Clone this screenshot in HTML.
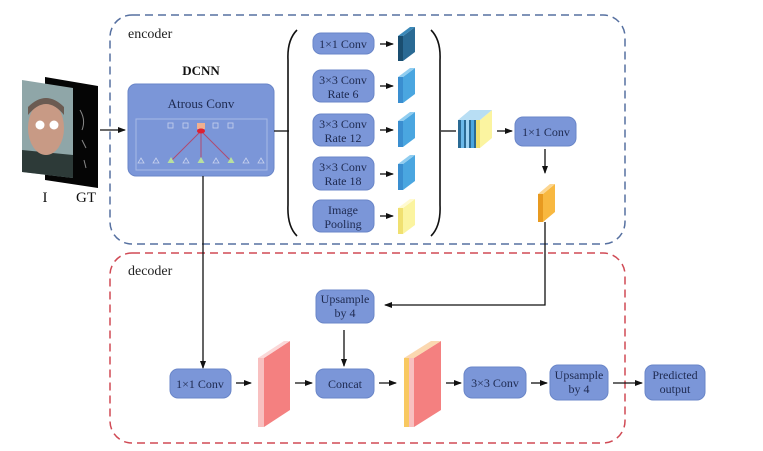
<!DOCTYPE html>
<html><head><meta charset="utf-8"><style>
html,body{margin:0;padding:0;background:#fff;}
svg{display:block;font-family:"Liberation Serif",serif;}
</style></head><body>
<svg width="763" height="451" viewBox="0 0 763 451" xmlns="http://www.w3.org/2000/svg">
<defs>
<marker id="a" markerWidth="8" markerHeight="8" refX="7" refY="4" orient="auto" markerUnits="userSpaceOnUse"><path d="M0,1 L8,4 L0,7 z" fill="#111"/></marker>
</defs>
<!-- containers -->
<rect x="110" y="15" width="515" height="229" rx="22" fill="none" stroke="#5670a0" stroke-width="1.5" stroke-dasharray="8,5"/>
<rect x="110" y="253" width="515" height="190" rx="22" fill="none" stroke="#d04a55" stroke-width="1.5" stroke-dasharray="8,5"/>
<text x="128" y="38" font-size="14" fill="#222">encoder</text>
<text x="128" y="275" font-size="14" fill="#222">decoder</text>

<!-- input images -->
<polygon points="45,77 98,86 98,188 45,180" fill="#050505"/>
<path d="M80,110 q6,10 2,20 M82,140 l4,8 M84,160 l2,8" stroke="#888" stroke-width="1" fill="none"/>
<polygon points="22,80 73,88 73,178 22,172" fill="#8fa6a8"/>
<polygon points="22,150 73,155 73,178 22,172" fill="#2d3a38"/>
<ellipse cx="46" cy="128" rx="18" ry="27" fill="#c89a85"/>
<path d="M28,115 q18,-22 36,0 l0,-8 q-18,-18 -36,0z" fill="#6b5b52"/>
<circle cx="40" cy="125" r="4.5" fill="#fff"/><circle cx="54" cy="125" r="4.5" fill="#fff"/>
<text x="45" y="202" font-size="15" text-anchor="middle" fill="#111">I</text>
<text x="86" y="202" font-size="15" text-anchor="middle" fill="#111">GT</text>
<line x1="100" y1="130" x2="125" y2="130" stroke="#111" stroke-width="1.3" marker-end="url(#a)"/>

<!-- DCNN -->
<text x="201" y="75" font-size="13" font-weight="bold" text-anchor="middle" fill="#111">DCNN</text>
<rect x="128" y="84" width="146" height="92" rx="8" fill="#7b96d8" stroke="#6a86c8"/>
<text x="201" y="108" font-size="13" text-anchor="middle" fill="#1e2a50">Atrous Conv</text>
<rect x="136" y="119" width="131" height="51" fill="none" stroke="#a7b9e6" stroke-width="1"/>
<g stroke="#b04a70" stroke-width="1"><line x1="201" y1="131" x2="171" y2="161"/><line x1="201" y1="131" x2="201" y2="161"/><line x1="201" y1="131" x2="231" y2="161"/></g>
<g fill="none" stroke="#c8d2ee" stroke-width="0.8">
<rect x="168" y="123" width="5" height="5"/><rect x="183" y="123" width="5" height="5"/><rect x="213" y="123" width="5" height="5"/><rect x="228" y="123" width="5" height="5"/>
</g>
<rect x="197" y="123" width="8" height="6" fill="#f0b090"/>
<ellipse cx="201" cy="131" rx="4" ry="2.5" fill="#e02030"/>
<g fill="none" stroke="#c8d2ee" stroke-width="0.8">
<path d="M141,158 l3,5 h-6z M156,158 l3,5 h-6z M186,158 l3,5 h-6z M216,158 l3,5 h-6z M246,158 l3,5 h-6z M261,158 l3,5 h-6z"/>
</g>
<g fill="#b8e0a0"><path d="M171,157 l3.5,6 h-7z M201,157 l3.5,6 h-7z M231,157 l3.5,6 h-7z"/></g>
<line x1="274" y1="131" x2="289" y2="131" stroke="#111" stroke-width="1.3"/>

<!-- brackets -->
<path d="M297,30 Q287,40 288,60 L288,205 Q287,226 297,236" fill="none" stroke="#111" stroke-width="1.6"/>
<path d="M431,30 Q441,40 440,60 L440,205 Q441,226 431,236" fill="none" stroke="#111" stroke-width="1.6"/>
<line x1="441" y1="131" x2="456" y2="131" stroke="#111" stroke-width="1.3"/>

<!-- ASPP boxes -->
<g fill="#7b96d8" stroke="#6a86c8">
<rect x="313" y="33" width="61" height="21" rx="8"/>
<rect x="313" y="70" width="61" height="32" rx="8"/>
<rect x="313" y="114" width="61" height="32" rx="8"/>
<rect x="313" y="157" width="61" height="33" rx="8"/>
<rect x="313" y="200" width="61" height="32" rx="8"/>
</g>
<g font-size="12" text-anchor="middle" fill="#1e2a50">
<text x="343" y="48">1×1 Conv</text>
<text x="343" y="84">3×3 Conv</text><text x="343" y="98">Rate 6</text>
<text x="343" y="128">3×3 Conv</text><text x="343" y="142">Rate 12</text>
<text x="343" y="171">3×3 Conv</text><text x="343" y="185">Rate 18</text>
<text x="343" y="214">Image</text><text x="343" y="228">Pooling</text>
</g>
<g stroke="#111" stroke-width="1.3" marker-end="url(#a)">
<line x1="380" y1="44" x2="393" y2="44"/><line x1="380" y1="86" x2="393" y2="86"/><line x1="380" y1="130" x2="393" y2="130"/><line x1="380" y1="174" x2="393" y2="174"/><line x1="380" y1="216" x2="393" y2="216"/>
</g>
<!-- small cubes -->
<g>
<polygon points="398,36 403,36 403,61 398,61" fill="#1a4e70"/><polygon points="403,36 415,27 415,52 403,61" fill="#2a6a94"/><polygon points="398,36 410,27 415,27 403,36" fill="#3a88b8"/>
<polygon points="398,77 403,77 403,103 398,103" fill="#3a8ed0"/><polygon points="403,77 415,68 415,94 403,103" fill="#4aa6e0"/><polygon points="398,77 410,68 415,68 403,77" fill="#90cdf0"/>
<polygon points="398,121 403,121 403,147 398,147" fill="#3a8ed0"/><polygon points="403,121 415,112 415,138 403,147" fill="#4aa6e0"/><polygon points="398,121 410,112 415,112 403,121" fill="#90cdf0"/>
<polygon points="398,164 403,164 403,190 398,190" fill="#3a8ed0"/><polygon points="403,164 415,155 415,181 403,190" fill="#4aa6e0"/><polygon points="398,164 410,155 415,155 403,164" fill="#90cdf0"/>
<polygon points="398,208 403,208 403,234 398,234" fill="#f0e070"/><polygon points="403,208 415,199 415,225 403,234" fill="#fbf4a0"/><polygon points="398,208 410,199 415,199 403,208" fill="#fffad0"/>
</g>
<!-- stacked cube -->
<g>
<polygon points="458,120 478,120 478,148 458,148" fill="#2a6a94"/>
<rect x="461" y="120" width="3" height="28" fill="#6ab8e8"/><rect x="466" y="120" width="3" height="28" fill="#9ed4f4"/><rect x="471" y="120" width="3" height="28" fill="#4aa6e0"/>
<polygon points="476,120 480,120 480,148 476,148" fill="#f0e070"/>
<polygon points="480,120 492,110 492,138 480,148" fill="#fbf4a0"/>
<polygon points="458,120 470,110 492,110 480,120" fill="#b8def4"/>
</g>
<line x1="497" y1="131" x2="512" y2="131" stroke="#111" stroke-width="1.3" marker-end="url(#a)"/>
<rect x="515" y="117" width="61" height="29" rx="8" fill="#7b96d8" stroke="#6a86c8"/>
<text x="546" y="136" font-size="12" text-anchor="middle" fill="#1e2a50">1×1 Conv</text>
<line x1="545" y1="149" x2="545" y2="173" stroke="#111" stroke-width="1.3" marker-end="url(#a)"/>
<polygon points="538,194 543,194 543,222 538,222" fill="#e89a20"/><polygon points="543,194 555,184 555,212 543,222" fill="#f8b840"/><polygon points="538,194 550,184 555,184 543,194" fill="#fcd690"/>
<polyline points="545,222 545,305 385,305" fill="none" stroke="#111" stroke-width="1.3" marker-end="url(#a)"/>

<!-- decoder -->
<line x1="203" y1="176" x2="203" y2="368" stroke="#111" stroke-width="1.3" marker-end="url(#a)"/>
<g fill="#7b96d8" stroke="#6a86c8">
<rect x="316" y="290" width="58" height="33" rx="8"/>
<rect x="170" y="369" width="61" height="29" rx="8"/>
<rect x="316" y="369" width="58" height="29" rx="8"/>
<rect x="464" y="367" width="62" height="31" rx="8"/>
<rect x="550" y="365" width="58" height="35" rx="8"/>
<rect x="645" y="365" width="60" height="35" rx="8"/>
</g>
<g font-size="12" text-anchor="middle" fill="#1e2a50">
<text x="345" y="303">Upsample</text><text x="345" y="317">by 4</text>
<text x="200" y="388">1×1 Conv</text>
<text x="345" y="388">Concat</text>
<text x="495" y="387">3×3 Conv</text>
<text x="579" y="379">Upsample</text><text x="579" y="393">by 4</text>
<text x="675" y="379">Predicted</text><text x="675" y="393">output</text>
</g>
<line x1="344" y1="330" x2="344" y2="366" stroke="#111" stroke-width="1.3" marker-end="url(#a)"/>
<g stroke="#111" stroke-width="1.3" marker-end="url(#a)">
<line x1="236" y1="383" x2="251" y2="383"/><line x1="295" y1="383" x2="312" y2="383"/><line x1="379" y1="383" x2="396" y2="383"/>
<line x1="446" y1="383" x2="461" y2="383"/><line x1="531" y1="383" x2="547" y2="383"/><line x1="613" y1="383" x2="642" y2="383"/>
</g>
<!-- red slabs -->
<polygon points="258,358 264,358 264,427 258,427" fill="#f8c0c0"/><polygon points="264,358 290,341 290,410 264,427" fill="#f48080"/><polygon points="258,358 284,341 290,341 264,358" fill="#fbd8d8"/>
<polygon points="404,358 409,358 409,427 404,427" fill="#f8c860"/><polygon points="409,358 414,358 414,427 409,427" fill="#f8c0c0"/><polygon points="414,358 441,341 441,410 414,427" fill="#f48080"/><polygon points="404,358 431,341 441,341 414,358" fill="#fbd8b0"/>
</svg>
</body></html>
